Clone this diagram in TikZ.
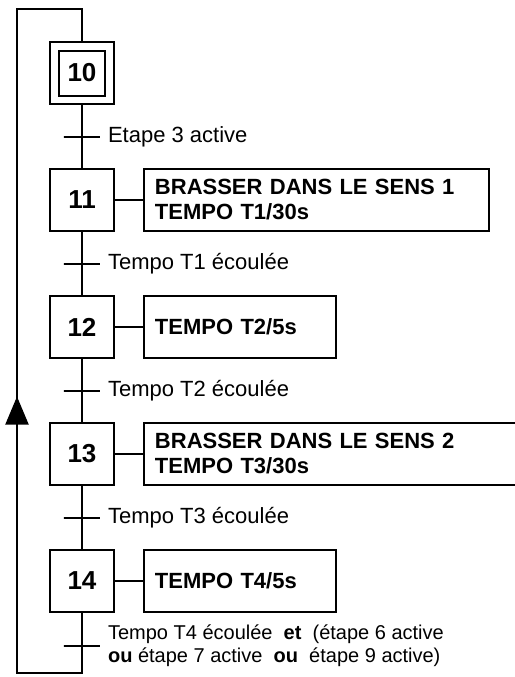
\documentclass[tikz,border=0pt]{standalone}
\usepackage{fontspec}
\setmainfont{Liberation Sans}
\usetikzlibrary{positioning, arrows.meta}

\begin{document}
\begin{tikzpicture}[
        node distance=31.5pt and 14pt,
        stepbox/.style={
            rectangle,
            draw,
            line width=1pt,
            minimum width=32pt,
            minimum height=31pt,
            inner sep=0pt,
            font=\fontsize{13}{15}\selectfont\bfseries
        },
        initbox/.style={
            rectangle,
            draw,
            line width=1pt,
            minimum width=23pt,
            minimum height=22.5pt
        },
        actionbox/.style={
            rectangle,
            draw,
            line width=1pt,
            align=left,
            minimum height=31pt,
            inner xsep=5.5pt,
            font=\fontsize{11}{12.5}\selectfont\bfseries
        },
        trans/.style={
            rectangle,
            draw,
            line width=1pt,
            minimum width=18pt,
            minimum height=0pt,
            inner sep=0pt,
            label distance=2pt
        },
        line/.style={
            line width=1pt
        },
        looparrow/.style={
            -{Triangle[length=14pt, width=11.5pt]},
            line width=1pt
        },
        every label/.style={font=\fontsize{11}{13}\selectfont}
    ]

        \useasboundingbox (0,0) rectangle (257.5pt,-338.5pt);

        % Etape initiale
        \node[stepbox] (s10) at (41pt,-36.5pt) {10};
        \node[initbox] (s10in) at (s10) {};

        % Etapes du grafcet
        \node[stepbox, below=of s10] (s11) {11};
        \node[stepbox, below=of s11] (s12) {12};
        \node[stepbox, below=of s12] (s13) {13};
        \node[stepbox, below=of s13] (s14) {14};

        % Actions associees
        \node[actionbox, text width=161.5pt, right=of s11] (a11) {BRASSER DANS LE SENS 1\\TEMPO T1/30s};
        \node[actionbox, text width=85pt, right=of s12] (a12) {TEMPO T2/5s};
        \node[actionbox, text width=190pt, right=of s13] (a13) {BRASSER DANS LE SENS 2\\TEMPO T3/30s};
        \node[actionbox, text width=85pt, right=of s14] (a14) {TEMPO T4/5s};

        % Transitions
        \node[trans, below=15.25pt of s10, label=right:Etape 3 active] (t1) {};
        \node[trans, below=15.25pt of s11, label=right:Tempo T1 écoulée] (t2) {};
        \node[trans, below=15.25pt of s12, label=right:Tempo T2 écoulée] (t3) {};
        \node[trans, below=15.25pt of s13, label=right:Tempo T3 écoulée] (t4) {};
        \node[trans, below=16pt of s14, label={[align=left, font=\fontsize{10}{11.5}\selectfont]right:Tempo T4 écoulée \ \textbf{et} \ (étape 6 active\\\textbf{ou} étape 7 active \ \textbf{ou} \ étape 9 active)}] (t5) {};

        % Points du bouclage
        \coordinate[above=16pt of s10] (ltop);
        \coordinate[below=30pt of s14] (fin);
        \coordinate[left=32.5pt of fin] (lbot);
        \coordinate (lhaut) at (lbot |- ltop);
        \path (lbot |- t3) ++(0,-3pt) coordinate (pointe);

        % Liaisons verticales
        \draw[line] (s10) -- (s11);
        \draw[line] (s11) -- (s12);
        \draw[line] (s12) -- (s13);
        \draw[line] (s13) -- (s14);

        % Liaisons etapes / actions
        \draw[line] (s11) -- (a11);
        \draw[line] (s12) -- (a12);
        \draw[line] (s13) -- (a13);
        \draw[line] (s14) -- (a14);

        % Bouclage vers l'etape 10
        \draw[line] (s14) -- (fin) -- (lbot) -- (lhaut) -- (ltop) -- (s10);
        \draw[looparrow] (lbot) -- (pointe);

    \end{tikzpicture}
\end{document}
